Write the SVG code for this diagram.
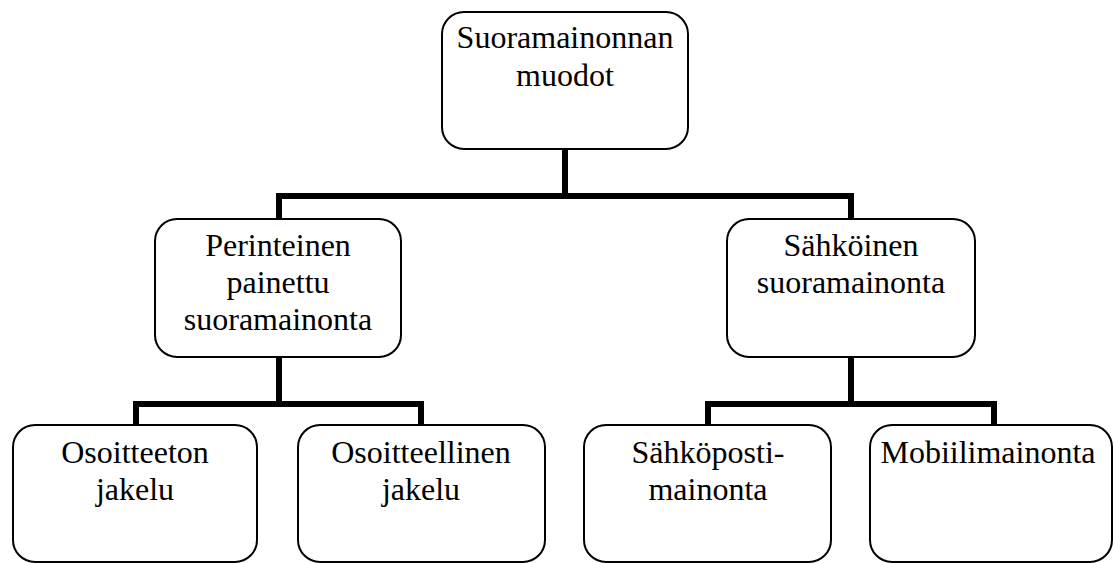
<svg xmlns="http://www.w3.org/2000/svg" width="1114" height="563" viewBox="0 0 1114 563">
<style>
.box{fill:#fff;stroke:#000;stroke-width:2}
.lbl{font-family:"Liberation Serif","Times New Roman",serif;font-size:32px;fill:#000;text-anchor:middle}
.conn{fill:none;stroke:#000;stroke-width:6;stroke-linejoin:miter;stroke-linecap:butt}
</style>
<rect width="1114" height="563" fill="#fff"/>
<g id="connectors">
<path class="conn" d="M565 149 V196 M279 219 V196 H851 V219"/>
<path class="conn" d="M279 357 V404 M136 425 V404 H421 V425"/>
<path class="conn" d="M851 357 V404 M708 425 V404 H994 V425"/>
</g>
<g id="n-root">
<rect class="box" x="442" y="12" width="246" height="137" rx="22"/>
<text class="lbl" x="565" y="48">Suoramainonnan</text>
<text class="lbl" x="565" y="86">muodot</text>
</g>
<g id="n-perinteinen">
<rect class="box" x="155" y="219" width="246" height="138" rx="22"/>
<text class="lbl" x="278" y="256">Perinteinen</text>
<text class="lbl" x="278" y="293">painettu</text>
<text class="lbl" x="278" y="330">suoramainonta</text>
</g>
<g id="n-sahkoinen">
<rect class="box" x="727" y="219" width="248" height="138" rx="22"/>
<text class="lbl" x="851" y="256">Sähköinen</text>
<text class="lbl" x="851" y="293">suoramainonta</text>
</g>
<g id="n-osoitteeton">
<rect class="box" x="13" y="425" width="244" height="137" rx="22"/>
<text class="lbl" x="135" y="463">Osoitteeton</text>
<text class="lbl" x="135" y="500">jakelu</text>
</g>
<g id="n-osoitteellinen">
<rect class="box" x="298" y="425" width="247" height="137" rx="22"/>
<text class="lbl" x="421" y="463">Osoitteellinen</text>
<text class="lbl" x="421" y="500">jakelu</text>
</g>
<g id="n-sahkoposti">
<rect class="box" x="584" y="425" width="247" height="137" rx="22"/>
<text class="lbl" x="708" y="463">Sähköposti-</text>
<text class="lbl" x="708" y="500">mainonta</text>
</g>
<g id="n-mobiili">
<rect class="box" x="870" y="425" width="242" height="137" rx="22"/>
<text class="lbl" x="988" y="463">Mobiilimainonta</text>
</g>
</svg>
